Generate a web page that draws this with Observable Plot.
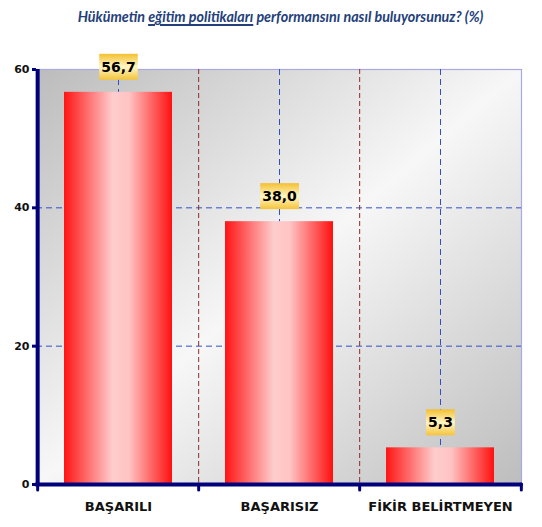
<!DOCTYPE html>
<html><head><meta charset="utf-8">
<script src="https://cdn.jsdelivr.net/npm/d3@7"></script>
<script src="https://cdn.jsdelivr.net/npm/@observablehq/plot@0.6"></script>
<style>
body{margin:0;background:#fff;width:542px;overflow:hidden;}
#title{height:40px;font:italic bold 14.3px Lato,"Open Sans",sans-serif;color:#23407a;text-align:center;padding-left:19px;box-sizing:border-box;line-height:34px;white-space:nowrap;}
#title u{text-decoration-thickness:1.5px;text-underline-offset:2px;}
</style></head>
<body>
<div id="title">Hükümetin <u>eğitim politikaları</u> performansını nasıl buluyorsunuz? (%)</div>
<div id="chart"></div>
<script>
const categories = ["BAŞARILI", "BAŞARISIZ", "FİKİR BELİRTMEYEN"];
const values = [56.7, 38.0, 5.3];
const yTicks = [0, 20, 40, 60];
const yMax = 60;

const data = categories.map((c, i) => ({c, v: values[i]}));
const fmt = v => d3.format(".1f")(v).replace(".", ",");
const labelTexts = new Set(values.map(fmt));

const W = 542, H = 487, mL = 36, mR = 21, mT = 29, mB = 43;
const step = (W - mL - mR) / categories.length;
const navy = "#00007a";

const svg = Plot.plot({
  width: W, height: H,
  marginLeft: mL, marginRight: mR, marginTop: mT, marginBottom: mB,
  style: {fontFamily: "DejaVu Sans, sans-serif", background: "transparent", overflow: "visible"},
  x: {domain: categories, paddingInner: 0.33, paddingOuter: 0.165, label: null},
  y: {domain: [0, yMax], label: null},
  marks: [
    Plot.frame({fill: "url(#bgGrad)", stroke: "#a9a9e6", strokeWidth: 1.2}),
    Plot.ruleY(yTicks.filter(t => t > 0 && t < yMax), {stroke: "#3050c8", strokeWidth: 1, strokeDasharray: "6,4"}),
    Plot.ruleX(categories, {stroke: "#3050c8", strokeWidth: 1, strokeDasharray: "6,4"}),
    Plot.ruleX(categories.slice(1), {dx: -step / 2, stroke: "#8a3020", strokeWidth: 1, strokeDasharray: "5,3"}),
    Plot.barY(data, {x: "c", y: "v", fill: "url(#barGrad)"}),
    Plot.text(data, {x: "c", y: "v", text: d => fmt(d.v), dy: -25, fontSize: 14, fontWeight: "bold", fill: "#000"}),
    Plot.ruleX([categories[0]], {dx: -step / 2, stroke: navy, strokeWidth: 4}),
    Plot.ruleX(categories, {dx: -step / 2, y1: 0, y2: 0, insetBottom: -6, stroke: navy, strokeWidth: 3, strokeLinecap: "round"}),
    Plot.ruleX([categories[categories.length - 1]], {dx: step / 2, y1: 0, y2: 0, insetBottom: -6, stroke: navy, strokeWidth: 3, strokeLinecap: "round"}),
    Plot.ruleY([0], {stroke: navy, strokeWidth: 4, strokeLinecap: "round"}),
    Plot.axisY({ticks: yTicks, tickSize: 4, tickPadding: 3, stroke: navy, strokeWidth: 3, fill: "#111", fontSize: 11, fontWeight: "bold", tickFormat: d3.format("d"), label: null}),
    Plot.axisX({tickSize: 0, tickPadding: 17, fill: "#111", fontSize: 13, fontWeight: "bold", label: null})
  ]
});

document.getElementById("chart").appendChild(svg);

const defs = d3.select(svg).insert("defs", ":first-child");
defs.html(`
  <linearGradient id="bgGrad" x1="0" y1="0" x2="1" y2="1">
    <stop offset="0" stop-color="#bcbcbc"/>
    <stop offset="0.5" stop-color="#f7f7f7"/>
    <stop offset="1" stop-color="#bdbdbd"/>
  </linearGradient>
  <linearGradient id="barGrad" x1="0" y1="0" x2="1" y2="0">
    <stop offset="0" stop-color="#ff1414"/>
    <stop offset="0.45" stop-color="#ffcccc"/>
    <stop offset="0.6" stop-color="#ffc4c4"/>
    <stop offset="1" stop-color="#ff1010"/>
  </linearGradient>
  <linearGradient id="lblGrad" x1="0" y1="0" x2="0" y2="1">
    <stop offset="0" stop-color="#f3bf2e"/>
    <stop offset="0.5" stop-color="#fff6c6"/>
    <stop offset="1" stop-color="#f4c43a"/>
  </linearGradient>
`);

d3.select(svg).selectAll("text").filter(function() {
  return labelTexts.has(this.textContent.trim());
}).each(function() {
  const b = this.getBBox();
  const padX = 2, padY = 5;
  const rect = document.createElementNS("http://www.w3.org/2000/svg", "rect");
  rect.setAttribute("x", b.x - padX);
  rect.setAttribute("y", b.y - padY);
  rect.setAttribute("width", b.width + 2 * padX);
  rect.setAttribute("height", b.height + 2 * padY);
  const t = this.getAttribute("transform");
  if (t) rect.setAttribute("transform", t);
  rect.setAttribute("fill", "url(#lblGrad)");
  this.parentNode.insertBefore(rect, this);
});
</script>
</body></html>
